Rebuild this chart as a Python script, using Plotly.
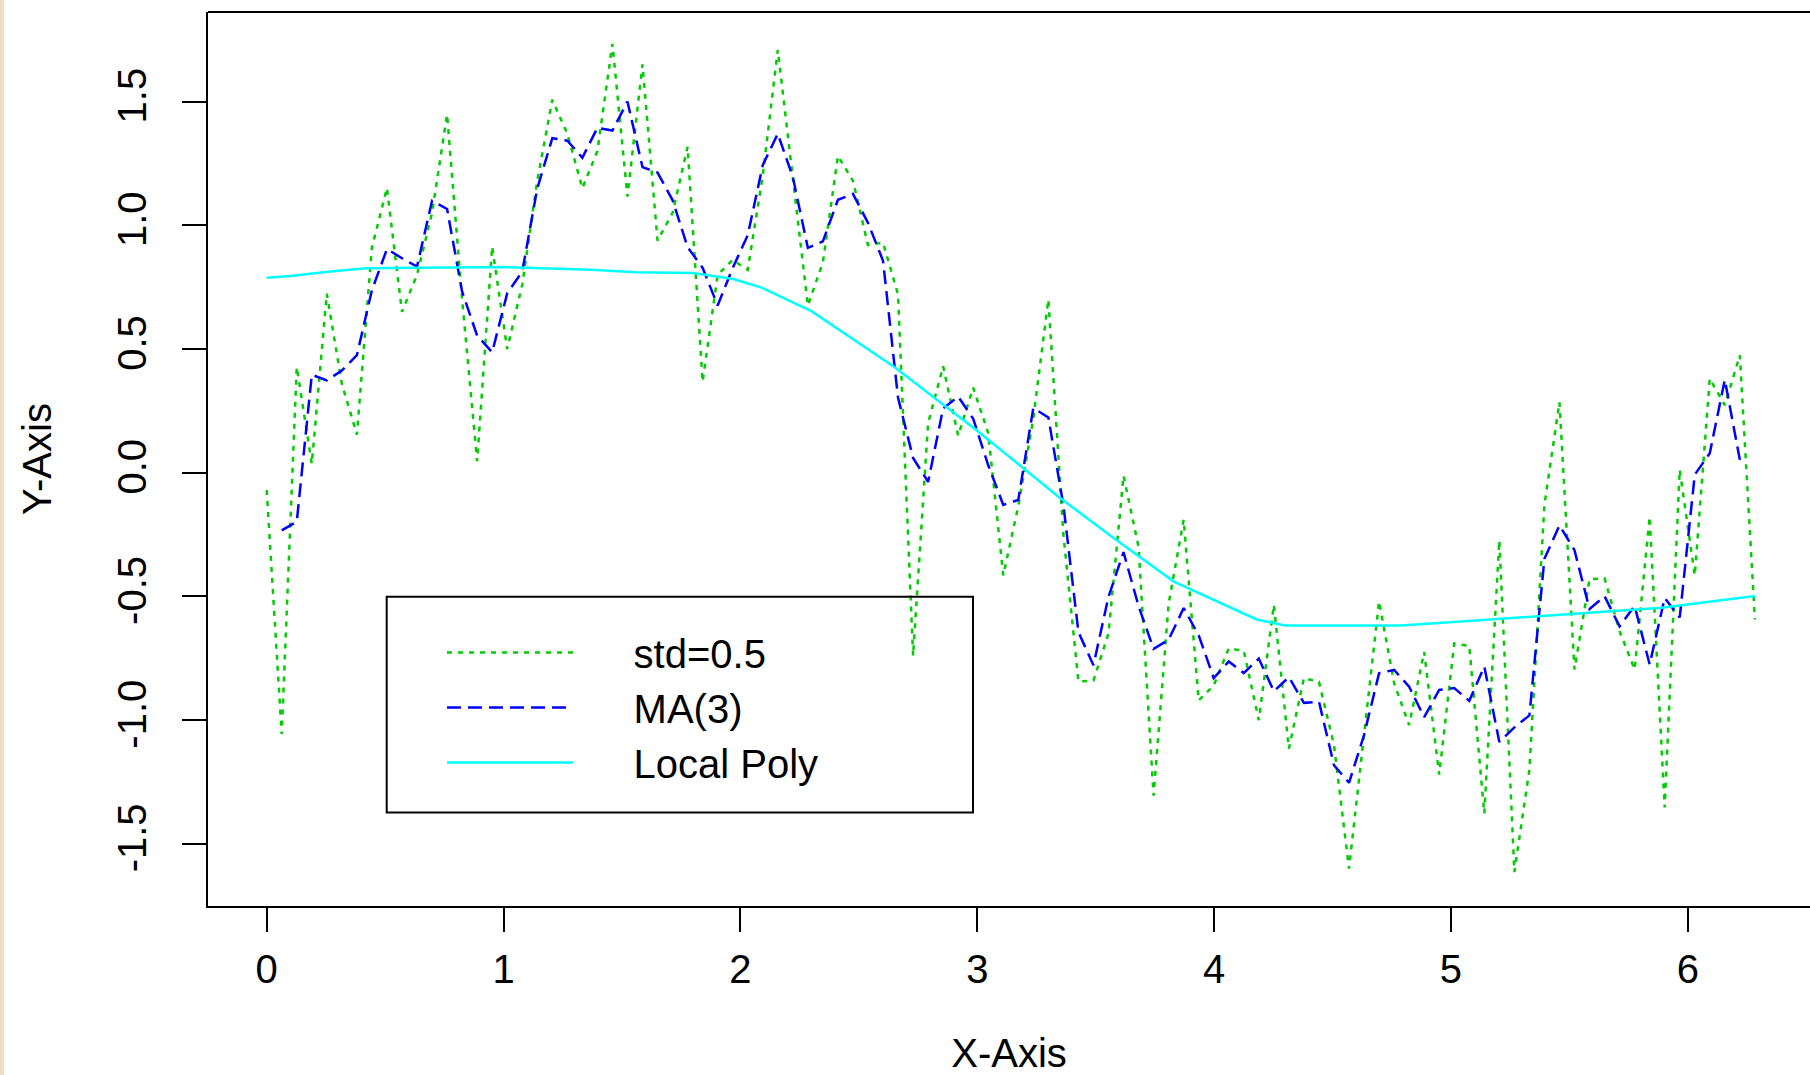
import numpy as np
import plotly.graph_objects as go

# ---- data ----
n_points = 100
x_grid = np.linspace(0, 2 * np.pi, n_points)

noisy_y = [
    -0.07, -1.056, 0.427, 0.036, 0.724, 0.36, 0.154, 0.91, 1.151, 0.65,
    0.80, 1.05, 1.448, 0.70, 0.047, 0.914, 0.50, 0.76, 1.18, 1.507,
    1.37, 1.15, 1.30, 1.733, 1.116, 1.65, 0.938, 1.05, 1.317, 0.368,
    0.80, 0.86, 0.82, 1.20, 1.709, 1.20, 0.676, 0.85, 1.28, 1.18,
    0.92, 0.93, 0.72, -0.74, 0.20, 0.43, 0.15, 0.344, 0.16, -0.415,
    -0.135, 0.22, 0.70, -0.25, -0.843, -0.84, -0.65, -0.012, -0.30, -1.305,
    -0.53, -0.19, -0.92, -0.86, -0.71, -0.72, -1.00, -0.534, -1.115, -0.83,
    -0.845, -1.10, -1.60, -1.06, -0.52, -0.85, -1.02, -0.724, -1.22, -0.69,
    -0.70, -1.377, -0.273, -1.614, -1.20, -0.13, 0.285, -0.795, -0.43, -0.427,
    -0.64, -0.795, -0.178, -1.353, 0.012, -0.415, 0.38, 0.273, 0.475, -0.593,
]

ma_y = [
    None,
    -0.233, -0.198, 0.396, 0.373, 0.413, 0.475, 0.738, 0.904, 0.867, 0.833,
    1.099, 1.066, 0.732, 0.554, 0.487, 0.725, 0.813, 1.149, 1.352, 1.342,
    1.273, 1.394, 1.383, 1.500, 1.235, 1.213, 1.102, 0.912, 0.828, 0.676,
    0.827, 0.960, 1.243, 1.370, 1.195, 0.909, 0.935, 1.103, 1.127, 1.010,
    0.857, 0.303, 0.060, -0.037, 0.260, 0.308, 0.218, 0.030, -0.130, -0.110,
    0.262, 0.223, -0.131, -0.644, -0.778, -0.501, -0.321, -0.539, -0.712, -0.675,
    -0.547, -0.657, -0.830, -0.763, -0.810, -0.751, -0.883, -0.826, -0.930, -0.925,
    -1.182, -1.253, -1.060, -0.810, -0.797, -0.865, -0.988, -0.878, -0.870, -0.922,
    -0.783, -1.088, -1.029, -0.981, -0.348, -0.213, -0.313, -0.551, -0.499, -0.621,
    -0.538, -0.775, -0.506, -0.585, -0.008, 0.079, 0.376, 0.052,
    None,
]

poly_x = [0.0, 0.10, 0.28, 0.42, 1.0, 1.37, 1.56, 1.80, 1.97, 2.09, 2.17, 2.30,
          2.65, 3.00, 3.34, 3.57, 3.83, 4.18, 4.30, 4.79, 5.09, 5.36, 5.72, 5.89, 6.283]
poly_y = [0.788, 0.795, 0.814, 0.826, 0.831, 0.820, 0.810, 0.807, 0.783, 0.748, 0.712, 0.653,
          0.427, 0.170, -0.095, -0.260, -0.440, -0.593, -0.617, -0.617, -0.598, -0.580, -0.557, -0.546, -0.498]

series_names = ["std=0.5", "MA(3)", "Local Poly"]
x_ticks = [0, 1, 2, 3, 4, 5, 6]
y_ticks = [-1.5, -1.0, -0.5, 0.0, 0.5, 1.0, 1.5]
y_tick_labels = ["-1.5", "-1.0", "-0.5", "0.0", "0.5", "1.0", "1.5"]

# ---- figure ----
W, H = 1810, 1075
ML, MR, MT, MB = 208, 0, 12, 169
PW = W - ML - MR
PH = H - MT - MB

def px_x(p):
    return (p - ML) / PW

def px_y(p):
    return (H - MB - p) / PH

FONT = "Liberation Sans, Arial, Helvetica, sans-serif"
GAP = "\u00a0" * 5  # space between legend sample line and its label

fig = go.Figure()
fig.add_trace(go.Scatter(x=x_grid, y=noisy_y, mode="lines", name=GAP + series_names[0],
                         line=dict(color="#00CD00", width=2.5, dash="5px,6px"), legendgroup="a"))
fig.add_trace(go.Scatter(x=x_grid, y=ma_y, mode="lines", name=GAP + series_names[1],
                         line=dict(color="#0000FF", width=2.5, dash="14px,7px"), legendgroup="b"))
fig.add_trace(go.Scatter(x=poly_x, y=poly_y, mode="lines", name=GAP + series_names[2],
                         line=dict(color="#00FFFF", width=2.5), legendgroup="c"))

shapes = [
    # top border of the plotting box
    dict(type="line", xref="paper", yref="paper", x0=0, x1=1, y0=1, y1=1,
         line=dict(color="black", width=2)),
    # legend box
    dict(type="rect", xref="paper", yref="paper",
         x0=px_x(386.7), x1=px_x(973), y0=px_y(812.6), y1=px_y(596.8),
         line=dict(color="black", width=2), fillcolor="rgba(0,0,0,0)"),
    # beige strip at the left edge
    dict(type="rect", xref="paper", yref="paper",
         x0=px_x(0), x1=px_x(4), y0=px_y(H), y1=px_y(0),
         line=dict(width=0), fillcolor="#EEDFC6", layer="below"),
]

fig.update_layout(
    width=W, height=H,
    margin=dict(l=ML, r=MR, t=MT, b=MB, pad=0, autoexpand=False),
    paper_bgcolor="white", plot_bgcolor="white",
    font=dict(family=FONT, size=40, color="black"),
    showlegend=True,
    legend=dict(x=px_x(442), y=px_y(620), xanchor="left", yanchor="top",
                bgcolor="rgba(0,0,0,0)", borderwidth=0,
                font=dict(family=FONT, size=40, color="black"),
                itemwidth=126, tracegroupgap=0, itemclick=False),
    shapes=shapes,
    xaxis=dict(range=[-0.2478, 6.5159], tickvals=x_ticks, ticks="outside", ticklen=24,
               tickwidth=2, tickcolor="black", showline=True, linecolor="black", linewidth=2,
               showgrid=False, zeroline=False, ticklabelstandoff=3, automargin=False,
               tickfont=dict(family=FONT, size=40, color="black"),
               title=dict(text="X-Axis", font=dict(family=FONT, size=40, color="black"), standoff=60)),
    yaxis=dict(range=[-1.751, 1.862], tickvals=y_ticks, ticktext=y_tick_labels, ticks="outside",
               ticklen=24, tickwidth=2, tickcolor="black", showline=True, linecolor="black",
               linewidth=2, showgrid=False, zeroline=False, tickangle=-90, ticklabelstandoff=20,
               automargin=False,
               tickfont=dict(family=FONT, size=40, color="black"),
               title=dict(text="Y-Axis", font=dict(family=FONT, size=40, color="black"), standoff=46)),
)

page_fix = (
    "document.documentElement.style.overflow='hidden';"
    "document.body.style.margin='0px';"
    "document.body.style.overflow='hidden';"
)

fig.write_html(
    "out.html",
    config={"displayModeBar": False},
    post_script=page_fix,
)
